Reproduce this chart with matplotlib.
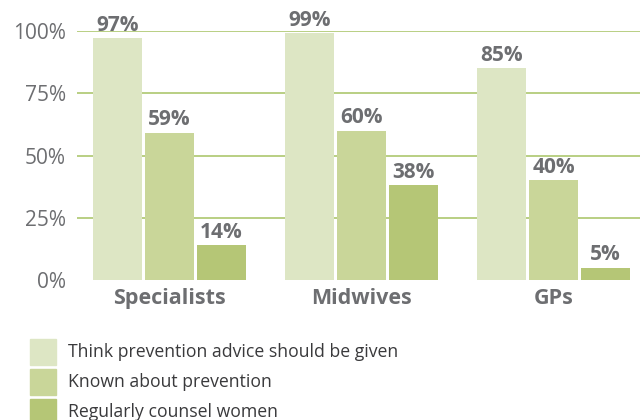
import matplotlib
matplotlib.use("Agg")
import matplotlib.pyplot as plt
from matplotlib.patches import Rectangle
import numpy as np

categories = ["Specialists", "Midwives", "GPs"]
series_names = ["Think prevention advice should be given",
                "Known about prevention",
                "Regularly counsel women"]
think_given = [97, 99, 85]
known_prev = [59, 60, 40]
counsel = [14, 38, 5]
yticks = [0, 25, 50, 75, 100]
ytick_labels = ["0%", "25%", "50%", "75%", "100%"]

colors = ["#dde6c4", "#c9d699", "#b5c676"]
grid_color = "#b3cc7a"
text_gray = "#6d6e71"
plt.rcParams['font.family'] = ['Open Sans', 'DejaVu Sans']

W, H = 640, 420
fig = plt.figure(figsize=(W/100, H/100), dpi=100)
ax = fig.add_axes([77/W, (H-280)/H, (640-77)/W, (280-31)/H])

x = np.arange(len(categories))
width = 49/192
offset = 52/192
series = [think_given, known_prev, counsel]
for i, vals in enumerate(series):
    pos = x + (i-1)*offset
    ax.bar(pos, vals, width=width, color=colors[i], zorder=3)
    for p, v in zip(pos, vals):
        ax.annotate(f"{v}%", (p, v), xytext=(0, 5.5), textcoords="offset points",
                    ha="center", va="baseline", fontsize=15, fontweight="bold",
                    color=text_gray, clip_on=False, zorder=4)

ax.set_xlim(-0.482, 2.45)
ax.set_ylim(0, 100)
ax.set_yticks(yticks)
ax.set_yticklabels(ytick_labels)
for y in yticks[1:]:
    ax.axhline(y, color=grid_color, lw=1.3, zorder=1)
ax.set_xticks(x)
ax.set_xticklabels(categories, fontsize=15.5, fontweight="bold", color=text_gray)
ax.tick_params(axis="both", length=0)
ax.tick_params(axis="y", pad=8, labelsize=15, labelcolor=text_gray)
ax.tick_params(axis="x", pad=6)
for s in ax.spines.values():
    s.set_visible(False)

# legend
sq = 26
for i, name in enumerate(series_names):
    top = 339 + i*30
    fig.patches.append(Rectangle((30/W, (H-top-sq)/H), sq/W, sq/H,
                                 transform=fig.transFigure, color=colors[i]))
    fig.text(68/W, (H-top-sq/2)/H, name, fontsize=12.7, color="#3a3a3c",
             va="center", ha="left")

fig.savefig("out.png", dpi=100)
